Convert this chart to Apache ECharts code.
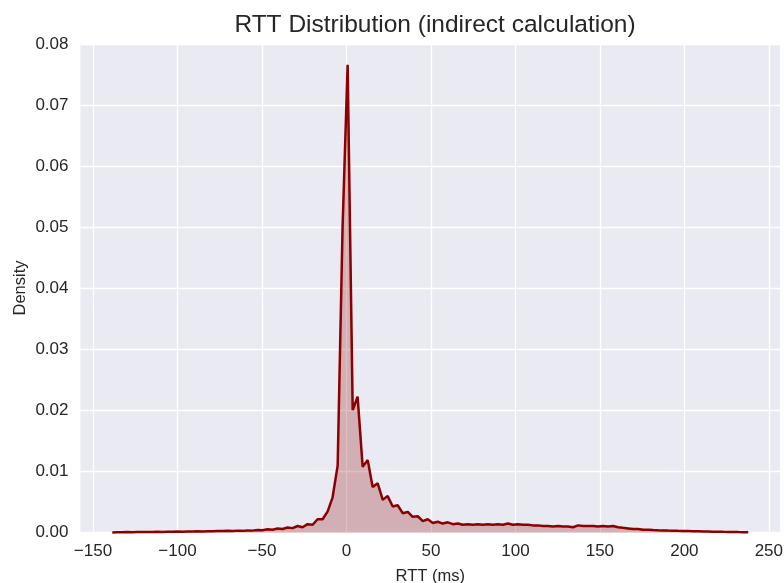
<!DOCTYPE html>
<html>
<head>
<meta charset="utf-8">
<script src="https://cdn.jsdelivr.net/npm/echarts@6/dist/echarts.min.js"></script>
<style>
  html, body { margin: 0; padding: 0; background: #ffffff; }
  #chart { width: 784px; height: 583px; }
</style>
</head>
<body>
<div id="chart"></div>
<script>
// KDE evaluation grid (ms)
const rttGrid = [
  -138.6, -135.6, -132.7, -129.7, -126.7, -123.8, -120.8, -117.9, -114.9, -111.9,
  -109.0, -106.0, -103.0, -100.1, -97.1, -94.1, -91.2, -88.2, -85.2, -82.3,
  -79.3, -76.4, -73.4, -70.4, -67.5, -64.5, -61.5, -58.6, -55.6, -52.6,
  -49.7, -46.7, -43.8, -40.8, -37.8, -34.9, -31.9, -28.9, -26.0, -23.0,
  -20.0, -17.1, -14.1, -11.1, -8.2, -5.2, -2.3, 0.7, 3.7, 6.6,
  9.6, 12.6, 15.5, 18.5, 21.5, 24.4, 27.4, 30.3, 33.3, 36.3,
  39.2, 42.2, 45.2, 48.1, 51.1, 54.1, 57.0, 60.0, 63.0, 65.9,
  68.9, 71.8, 74.8, 77.8, 80.7, 83.7, 86.7, 89.6, 92.6, 95.6,
  98.5, 101.5, 104.5, 107.4, 110.4, 113.3, 116.3, 119.3, 122.2, 125.2,
  128.2, 131.1, 134.1, 137.1, 140.0, 143.0, 146.0, 148.9, 151.9, 154.8,
  157.8, 160.8, 163.7, 166.7, 169.7, 172.6, 175.6, 178.6, 181.5, 184.5,
  187.4, 190.4, 193.4, 196.3, 199.3, 202.3, 205.2, 208.2, 211.2, 214.1,
  217.1, 220.1, 223.0, 226.0, 228.9, 231.9, 234.9, 237.8
];

// Estimated density at each grid point
const density = [
  0.00005, 0.00008, 0.00007, 0.0001, 0.00009, 0.00012, 0.0001, 0.00013, 0.00012, 0.00015,
  0.00013, 0.00016, 0.00015, 0.00018, 0.00017, 0.0002, 0.00019, 0.00022, 0.0002, 0.00025,
  0.00023, 0.00028, 0.00026, 0.0003, 0.00028, 0.00034, 0.0003, 0.00038, 0.00034, 0.00045,
  0.0004, 0.00055, 0.00048, 0.00068, 0.0006, 0.00085, 0.00075, 0.0011, 0.0009, 0.0014,
  0.0013, 0.0022, 0.0022, 0.0035, 0.0058, 0.0110, 0.0500, 0.0767, 0.0201, 0.0223,
  0.0108, 0.0119, 0.0075, 0.0081, 0.0054, 0.0060, 0.0043, 0.0045, 0.0032, 0.0034,
  0.0026, 0.0027, 0.0019, 0.0022, 0.0016, 0.0018, 0.0015, 0.0017, 0.0014, 0.0015,
  0.0013, 0.0014, 0.0013, 0.0014, 0.0013, 0.0014, 0.0013, 0.0014, 0.0013, 0.0015,
  0.0013, 0.0014, 0.0013, 0.0013, 0.0012, 0.0012, 0.0011, 0.0011, 0.0010, 0.0011,
  0.0010, 0.0010, 0.0009, 0.0012, 0.0011, 0.0011, 0.0011, 0.0010, 0.0011, 0.0010,
  0.0011, 0.0009, 0.0008, 0.0007, 0.0006, 0.0006, 0.0005, 0.0005, 0.00045, 0.0004,
  0.00038, 0.00035, 0.00033, 0.0003, 0.00028, 0.00026, 0.00024, 0.00022, 0.0002, 0.00019,
  0.00017, 0.00016, 0.00014, 0.00013, 0.00012, 0.0001, 0.00009, 0.00008
];

const xTicks = [-150, -100, -50, 0, 50, 100, 150, 200, 250];

const FONT = '"Liberation Sans", Arial, sans-serif';
const TEXT = '#262626';

const chart = echarts.init(document.getElementById('chart'), null, { renderer: 'canvas' });

chart.setOption({
  animation: false,
  backgroundColor: '#ffffff',
  title: {
    text: 'RTT Distribution (indirect calculation)',
    left: 430,
    textAlign: 'center',
    top: 8,
    textStyle: { fontFamily: FONT, fontSize: 24.5, fontWeight: 'normal', color: TEXT }
  },
  grid: {
    left: 80.5, right: 4, top: 43.3, bottom: 50.3,
    outerBoundsMode: 'none',
    containLabel: false,
    show: true, backgroundColor: '#EAEAF2', borderWidth: 0
  },
  xAxis: {
    type: 'value',
    min: -157.4,
    max: 256.6,
    name: 'RTT (ms)',
    nameLocation: 'middle',
    nameGap: 35,
    nameTextStyle: { fontFamily: FONT, fontSize: 16.5, color: TEXT },
    axisLine: { show: false },
    axisTick: { show: false, customValues: xTicks },
    axisLabel: {
      customValues: xTicks,
      fontFamily: FONT, fontSize: 17, color: TEXT, margin: 10,
      formatter: v => (v < 0 ? '\u2212' + Math.abs(v) : String(v))
    },
    splitLine: { show: true, lineStyle: { color: '#ffffff', width: 1.3 } }
  },
  yAxis: {
    type: 'value',
    min: 0,
    max: 0.08023,
    interval: 0.01,
    name: 'Density',
    nameLocation: 'middle',
    nameGap: 52,
    nameMoveOverlap: false,
    nameTextStyle: { fontFamily: FONT, fontSize: 16.5, color: TEXT },
    axisLine: { show: false },
    axisTick: { show: false },
    axisLabel: {
      fontFamily: FONT, fontSize: 17, color: TEXT, margin: 12,
      formatter: v => v.toFixed(2)
    },
    splitLine: { show: true, lineStyle: { color: '#ffffff', width: 1.3 } }
  },
  series: [{
    type: 'line',
    data: rttGrid.map((x, i) => [x, density[i]]),
    showSymbol: false,
    smooth: false,
    lineStyle: { color: '#8B0000', width: 2.5 },
    itemStyle: { color: '#8B0000' },
    areaStyle: { color: '#8B0000', opacity: 0.25 }
  }]
});
</script>
</body>
</html>
